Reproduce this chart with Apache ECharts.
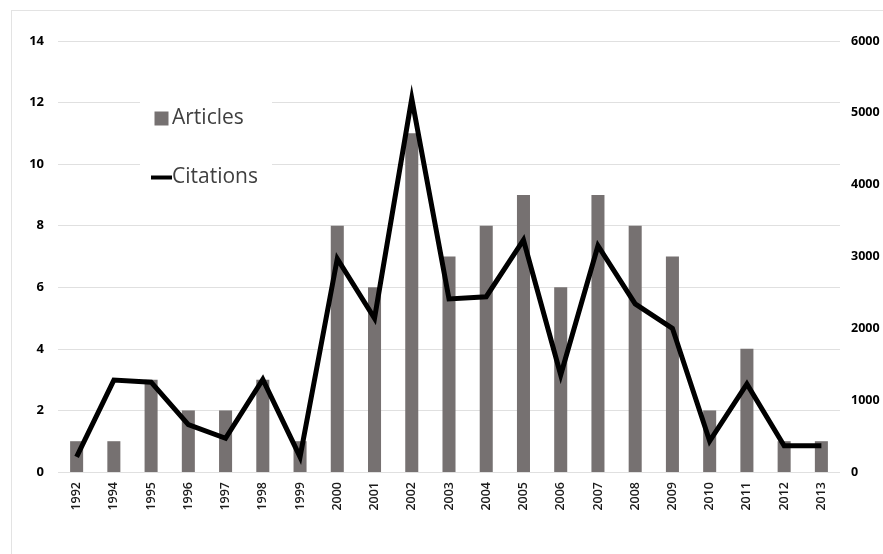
<!DOCTYPE html>
<html>
<head>
<meta charset="utf-8">
<script src="https://cdn.jsdelivr.net/npm/echarts@6/dist/echarts.min.js"></script>
<style>
  html, body { margin: 0; padding: 0; background: #fff; }
  #frame { position: absolute; left: 11px; top: 10px; width: 900px; height: 600px; border-left: 1px solid #e3e3e3; border-top: 1px solid #e3e3e3; }
  #chart { position: absolute; left: 0; top: 0; width: 883px; height: 554px; }
</style>
</head>
<body>
<div id="frame"></div>
<div id="chart"></div>
<script>
const years = ['1992','1994','1995','1996','1997','1998','1999','2000','2001','2002','2003','2004','2005','2006','2007','2008','2009','2010','2011','2012','2013'];
const articles = [1,1,3,2,2,3,1,8,6,11,7,8,9,6,9,8,7,2,4,1,1];
const citations = [210,1280,1250,660,470,1290,210,2970,2140,5200,2410,2440,3230,1350,3150,2340,2000,430,1225,365,365];
const leftTicks = [0,14,2];
const rightTicks = [0,6000,1000];

const chart = echarts.init(document.getElementById('chart'), null, {renderer: 'canvas'});
chart.setOption({
  animation: false,
  backgroundColor: 'transparent',
  grid: { left: 58, right: 43, top: 41, bottom: 82 },
  legend: {
    orient: 'vertical',
    left: 140,
    top: 98,
    padding: [10, 14, 10, 11],
    backgroundColor: '#fff',
    itemWidth: 21,
    itemHeight: 14,
    itemGap: 38,
    textStyle: { fontFamily: 'Open Sans', fontSize: 21, color: '#404040', padding: [0,0,0,-5] },
    data: [
      { name: 'Articles', icon: 'path://M3,0h14v14h-14z' },
      { name: 'Citations', icon: 'path://M0,0h21v4h-21z' }
    ]
  },
  xAxis: {
    type: 'category',
    data: years,
    axisLine: { show: false },
    axisTick: { show: false },
    axisLabel: { rotate: 90, margin: 10, fontFamily: 'Open Sans', fontSize: 12.5, fontWeight: 600, color: '#1a1a1a', interval: 0 }
  },
  yAxis: [
    {
      type: 'value', min: leftTicks[0], max: leftTicks[1], interval: leftTicks[2],
      axisLine: { show: false }, axisTick: { show: false },
      axisLabel: { margin: 14, fontFamily: 'Open Sans', fontWeight: 'bold', fontSize: 13, color: '#000' },
      splitLine: { lineStyle: { color: '#e0e0e0', width: 1 } }
    },
    {
      type: 'value', min: rightTicks[0], max: rightTicks[1], interval: rightTicks[2],
      position: 'right',
      axisLine: { show: false }, axisTick: { show: false },
      axisLabel: { margin: 11, fontFamily: 'Open Sans', fontWeight: 'bold', fontSize: 12.5, color: '#000', align: 'left', formatter: v => String(v) },
      splitLine: { show: false }
    }
  ],
  series: [
    {
      name: 'Articles', type: 'bar', data: articles, barWidth: '35%',
      itemStyle: { color: '#767171' }
    },
    {
      name: 'Citations', type: 'line', yAxisIndex: 1, data: citations,
      symbol: 'none', lineStyle: { color: '#000', width: 5, join: 'miter' },
      itemStyle: { color: '#000' }
    }
  ]
});
</script>
</body>
</html>
